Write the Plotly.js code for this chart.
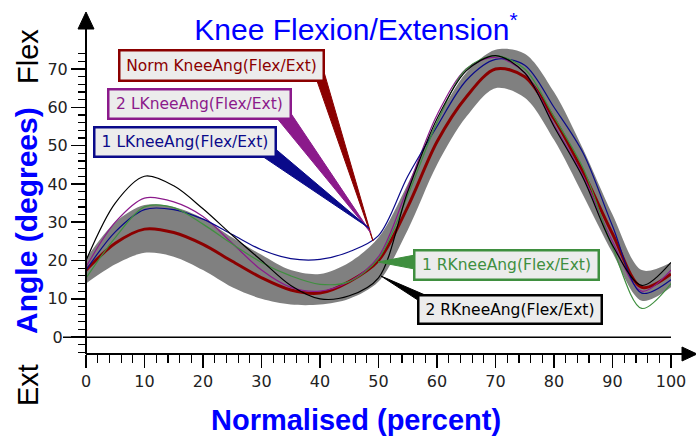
<!DOCTYPE html>
<html><head><meta charset="utf-8">
<script src="https://cdn.plot.ly/plotly-3.0.1.min.js"></script>
<style>html,body{margin:0;padding:0;background:#fff;}#chart{width:696px;height:440px;}</style>
</head><body><div id="chart"></div>
<script>
// ---- data (percent of cycle, knee angle in degrees) ----
const pct = [0,5,10,15,20,25,30,35,40,45,50,55,60,65,70,75,80,85,90,95,100];
const normAngle  = [17.5,24.5,28.2,27.3,24.2,19.8,15.5,12.3,11.5,14.5,20,34,51,62.7,70,68,57,43,27,13,16.5];
const normUpper  = [20.5,30,34.5,34,31,26,21.5,17.5,16.5,19.5,26,40,56.5,69,75,74,64,49,32,17.5,19.5];
const normLower  = [14,19,22,21,17.5,13,10,8.5,8.5,10,14.5,28,45,57.5,65,62.5,51.5,37,22,9.5,13];
const l1Angle    = [17.5,27.5,33.3,33.3,30.8,26.8,22.8,20.5,20.3,22.3,26.5,42,55,67,72.5,71,60,48,29,11.5,15];
const l2Angle    = [18.3,30,36.3,35.3,31.5,24.5,17.5,13,12,14.5,21,39,58,70,73,69,55.5,42,25,12,17.5];
const r1Angle    = [15.4,26,34,33.8,29.5,24.3,19.5,16,13.8,14.5,20.5,37,56,70,73.5,70,57.5,44,23.5,7.5,14];
const r2Angle    = [20,35,42,39.5,33.5,26.6,20,13.5,10,10.8,15.5,38,57,69.5,73.5,69,55,41.5,24,13.5,19.5];

const xTicks = [0,10,20,30,40,50,60,70,80,90,100];
const xTickText = ['0','10','20','30','40','50','60','70','80','90','100'];
const yTicks = [0,10,20,30,40,50,60,70];
const yTickText = ['0\u00a0','10','20','30','40','50','60','70'];
const xMinor = [2,4,6,8,12,14,16,18,22,24,26,28,32,34,36,38,42,44,46,48,52,54,56,58,62,64,66,68,72,74,76,78,82,84,86,88,92,94,96,98];
const yMinor = [-4,-2,2,4,6,8,12,14,16,18,22,24,26,28,32,34,36,38,42,44,46,48,52,54,56,58,62,64,66,68,72,74];

const seriesNames = ['Norm KneeAng(Flex/Ext)','2 LKneeAng(Flex/Ext)','1 LKneeAng(Flex/Ext)','1 RKneeAng(Flex/Ext)','2 RKneeAng(Flex/Ext)'];
const seriesColors = ['#8b0000','#8b1a8b','#0a0a8a','#3f8f3f','#000000'];

// ---- layout geometry ----
const W = 696, H = 440;
const M = {l:86, r:25, t:46, b:86};
const PW = W - M.l - M.r, PH = H - M.t - M.b;
const xRange = [0,100], yRange = [-4.4,76];
const pxX = p => (p - M.l) / PW;           // pixel -> paper x
const pxY = p => (H - M.b - p) / PH;       // pixel -> paper y

const sp = {shape:'spline', smoothing:0.9};
const traces = [
  {x:pct, y:normLower, mode:'lines', line:Object.assign({width:0,color:'#808080'},sp), hoverinfo:'skip', showlegend:false},
  {x:pct, y:normUpper, mode:'lines', fill:'tonexty', fillcolor:'#808080', line:Object.assign({width:0,color:'#808080'},sp), hoverinfo:'skip', showlegend:false},
  {x:pct, y:normAngle, name:seriesNames[0], mode:'lines', line:Object.assign({width:3,color:seriesColors[0]},sp)},
  {x:pct, y:l2Angle, name:seriesNames[1], mode:'lines', line:Object.assign({width:1.2,color:seriesColors[1]},sp)},
  {x:pct, y:l1Angle, name:seriesNames[2], mode:'lines', line:Object.assign({width:1.2,color:seriesColors[2]},sp)},
  {x:pct, y:r1Angle, name:seriesNames[3], mode:'lines', line:Object.assign({width:1.2,color:seriesColors[3]},sp)},
  {x:pct, y:r2Angle, name:seriesNames[4], mode:'lines', line:Object.assign({width:1.2,color:seriesColors[4]},sp)}
];

// callout boxes (data-coordinate centres, pixel sizes) and their pointer wedges
const boxX = [23.16, 19.40, 16.92, 71.88, 72.48];
const boxY = [70.90, 60.95, 50.98, 18.82, 7.20];
const boxW = [200, 178, 177, 180, 179];
const boxH = [26, 25, 25, 25, 24];
const wedges = [
  [[40.68,69.24],[39.32,67.63],[49.06,25.09]],
  [[34.87,58.76],[32.48,57.46],[48.72,27.17]],
  [[31.79,49.89],[30.09,47.28],[48.38,28.48]],
  [[57.09,21.69],[57.09,17.52],[49.91,19.61]],
  [[59.15,10.21],[57.26,9.16],[50.43,15.95]]
];

const shapes = [];
wedges.forEach((w,i) => {
  shapes.push({type:'path', xref:'x', yref:'y',
    path:'M'+w[0][0]+','+w[0][1]+' L'+w[1][0]+','+w[1][1]+' L'+w[2][0]+','+w[2][1]+' Z',
    fillcolor:seriesColors[i], line:{color:seriesColors[i], width:1}});
});
const yZero = (0 - yRange[0])/(yRange[1]-yRange[0]);
shapes.push({type:'line', xref:'paper', yref:'paper', x0:pxX(63), x1:1, y0:yZero, y1:yZero, line:{color:'#000', width:1.5}});
shapes.push({type:'line', xref:'paper', yref:'paper', x0:0, x1:0, y0:0, y1:pxY(28), line:{color:'#000', width:2}});
shapes.push({type:'line', xref:'paper', yref:'paper', x0:0, x1:pxX(684), y0:0, y1:0, line:{color:'#000', width:2}});
shapes.push({type:'path', xref:'paper', yref:'paper',
  path:'M'+pxX(78)+','+pxY(29)+' L'+pxX(94)+','+pxY(29)+' L'+pxX(86)+','+pxY(12)+' Z', fillcolor:'#000', line:{color:'#000',width:1}});
shapes.push({type:'path', xref:'paper', yref:'paper',
  path:'M'+pxX(682)+','+pxY(347)+' L'+pxX(682)+','+pxY(361)+' L'+pxX(697)+','+pxY(354)+' Z', fillcolor:'#000', line:{color:'#000',width:1}});

const annotations = seriesNames.map((n,i) => ({
  xref:'x', yref:'y', x:boxX[i], y:boxY[i], xanchor:'center', yanchor:'middle',
  text:n, showarrow:false, bgcolor:'#ececec', bordercolor:seriesColors[i], borderwidth:2.5, borderpad:1,
  width:boxW[i], height:boxH[i], align:'center', valign:'middle',
  font:{family:'DejaVu Sans', size:15.5, color:seriesColors[i]}
}));
annotations.push(
  {xref:'paper', yref:'paper', x:pxX(27), y:pxY(221), xanchor:'center', yanchor:'middle', textangle:-90, showarrow:false,
   text:'Angle (degrees)', font:{family:'Liberation Sans, Arial', size:30, color:'#0000ff', weight:'bold'}},
  {xref:'paper', yref:'paper', x:pxX(28), y:pxY(57), xanchor:'center', yanchor:'middle', textangle:-90, showarrow:false,
   text:'Flex', font:{family:'Liberation Sans, Arial', size:29, color:'#000'}},
  {xref:'paper', yref:'paper', x:pxX(28), y:pxY(385), xanchor:'center', yanchor:'middle', textangle:-90, showarrow:false,
   text:'Ext', font:{family:'Liberation Sans, Arial', size:29, color:'#000'}},
  {xref:'paper', yref:'paper', x:pxX(356), y:pxY(420), xanchor:'center', yanchor:'middle', showarrow:false,
   text:'Normalised (percent)', font:{family:'Liberation Sans, Arial', size:29, color:'#0000ff', weight:'bold'}}
);

const tickFont = {family:'DejaVu Sans', size:16, color:'#222'};
const layout = {
  width:W, height:H, margin:M, paper_bgcolor:'#fff', plot_bgcolor:'#fff', showlegend:false,
  title:{text:'Knee Flexion/Extension<sup>*</sup>', x:356/W, xref:'container', xanchor:'center', y:1-29/H, yref:'container', yanchor:'middle',
    font:{family:'Liberation Sans, Arial', size:30, color:'#0000ff'}},
  xaxis:{range:xRange, tickmode:'array', tickvals:xTicks, ticktext:xTickText, ticks:'outside', ticklen:13, tickwidth:1.5, tickcolor:'#000',
    showgrid:false, zeroline:false, showline:false, tickfont:tickFont, fixedrange:true,
    minor:{tickmode:'array', tickvals:xMinor, ticks:'outside', ticklen:8, tickwidth:1.2, tickcolor:'#000', showgrid:false}},
  yaxis:{range:yRange, tickmode:'array', tickvals:yTicks, ticktext:yTickText, ticks:'outside', ticklen:14, tickwidth:1.5, tickcolor:'#000',
    showgrid:false, zeroline:false, showline:false, tickfont:tickFont, fixedrange:true,
    minor:{tickmode:'array', tickvals:yMinor, ticks:'outside', ticklen:7, tickwidth:1.2, tickcolor:'#000', showgrid:false}},
  shapes:shapes, annotations:annotations
};
Plotly.newPlot('chart', traces, layout, {displayModeBar:false, staticPlot:true});
</script></body></html>
